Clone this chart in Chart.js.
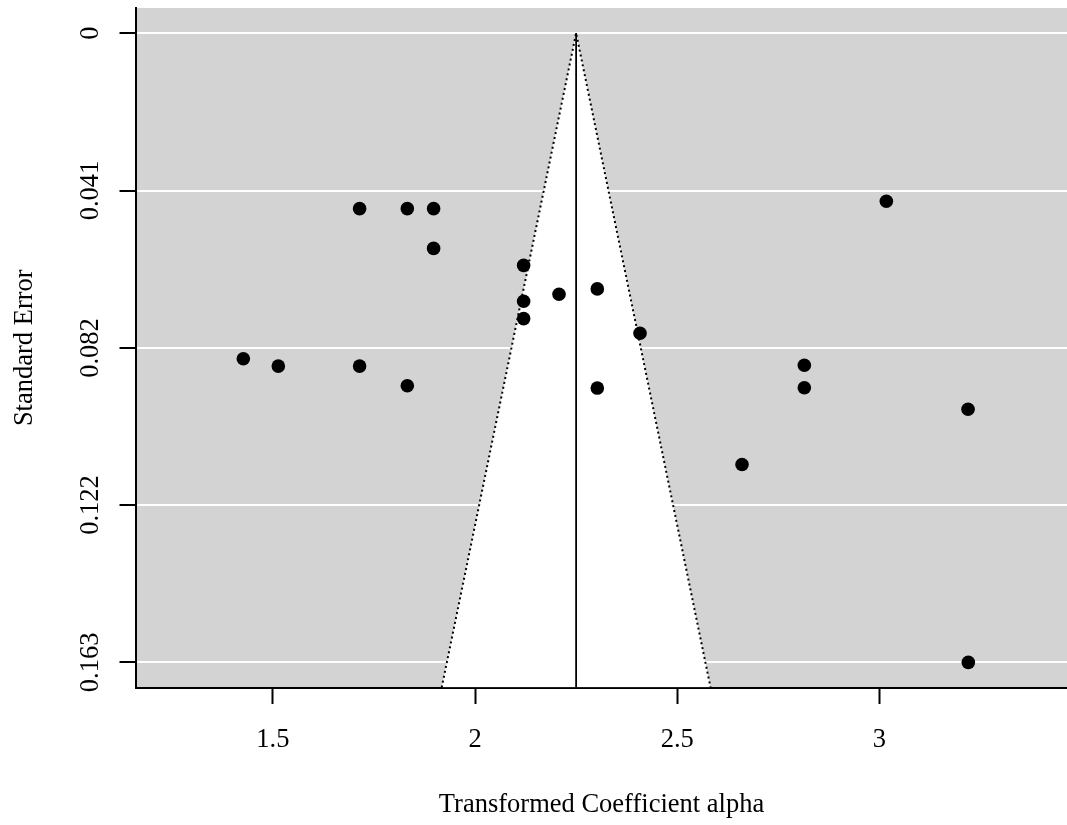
<!DOCTYPE html>
<html>
<head>
    <title>Funnel Plot</title>
    <script src="https://cdn.jsdelivr.net/npm/chart.js"></script>
    <style>
        body { margin: 0; background: #fff; }
    </style>
</head>
<body>
    <canvas id="funnelChart" width="1067" height="825"></canvas>
    <script>
    // transformed coefficient alpha and its standard error, one entry per study
    const alphaValues = [1.7146, 1.8326, 1.8976, 1.8976, 1.4271, 1.5136, 1.7146, 1.8326,
                         2.1202, 2.1202, 2.1202, 2.2077, 2.3024, 2.4080, 2.3024,
                         3.0171, 2.8143, 2.8143, 3.2191, 2.6602, 3.2198];
    const seValues = [0.0455, 0.0455, 0.0455, 0.0558, 0.0844, 0.0863, 0.0863, 0.0914,
                      0.0602, 0.0695, 0.0740, 0.0677, 0.0663, 0.0778, 0.0920,
                      0.0436, 0.0861, 0.0919, 0.0975, 0.1118, 0.1631];

    // pooled estimate and funnel (pseudo 95% limits)
    const pooledEstimate = 2.25;
    const zCrit = 1.96;

    const xTickValues = [1.5, 2, 2.5, 3];
    const yTickValues = [0, 0.0408, 0.0816, 0.1223, 0.1631];
    const yTickLabels = ['0', '0.041', '0.082', '0.122', '0.163'];

    const xMin = 1.1617, xMax = 3.4638;
    const yMin = -0.0065, yMax = 0.1696;

    const serif = 'Liberation Serif, "Times New Roman", serif';

    const points = alphaValues.map((a, i) => ({ x: a, y: seValues[i] }));
    const funnelEdge = [
        { x: pooledEstimate - zCrit * yMax, y: yMax },
        { x: pooledEstimate, y: 0 },
        { x: pooledEstimate + zCrit * yMax, y: yMax }
    ];
    const refLine = [{ x: pooledEstimate, y: 0 }, { x: pooledEstimate, y: yMax }];

    // grey panel behind everything, rotated y labels like base R
    const panelPlugin = {
        id: 'panel',
        beforeDraw(chart) {
            const { ctx, chartArea } = chart;
            ctx.save();
            ctx.fillStyle = '#d3d3d3';
            ctx.fillRect(chartArea.left, chartArea.top, chartArea.right - chartArea.left, chartArea.bottom - chartArea.top);
            ctx.restore();
        },
        afterDraw(chart) {
            const { ctx } = chart;
            const y = chart.scales.y;
            ctx.save();
            ctx.fillStyle = '#000';
            ctx.font = '26.5px ' + serif;
            ctx.textAlign = 'center';
            ctx.textBaseline = 'alphabetic';
            yTickValues.forEach((v, i) => {
                ctx.save();
                ctx.translate(98, y.getPixelForValue(v));
                ctx.rotate(-Math.PI / 2);
                ctx.fillText(yTickLabels[i], 0, 0);
                ctx.restore();
            });
            ctx.restore();
        }
    };

    const ctx = document.getElementById('funnelChart').getContext('2d');
    const chart = new Chart(ctx, {
        type: 'scatter',
        data: {
            datasets: [{
                label: 'Studies',
                data: points,
                backgroundColor: '#000',
                borderWidth: 0,
                pointRadius: 6.8,
                pointHoverRadius: 6.8
            }, {
                type: 'line',
                label: 'Estimate',
                data: refLine,
                borderColor: '#000',
                borderWidth: 1.8,
                pointRadius: 0,
                fill: false
            }, {
                type: 'line',
                label: 'Funnel',
                data: funnelEdge,
                borderColor: '#000',
                borderWidth: 2,
                borderDash: [2, 3],
                backgroundColor: '#fff',
                pointRadius: 0,
                tension: 0,
                fill: { value: yMax }
            }]
        },
        options: {
            responsive: false,
            animation: false,
            layout: { autoPadding: false, padding: { top: 8, left: 0, right: 0, bottom: 0 } },
            plugins: {
                legend: { display: false },
                tooltip: { enabled: false }
            },
            scales: {
                x: {
                    type: 'linear',
                    min: xMin,
                    max: xMax,
                    afterBuildTicks: (scale) => { scale.ticks = xTickValues.map(v => ({ value: v })); },
                    afterFit: (scale) => {
                        scale.height = 137.5;
                        scale.paddingLeft = 0;
                        scale.paddingRight = 0;
                    },
                    grid: {
                        drawOnChartArea: false,
                        drawTicks: true,
                        tickLength: 16.5,
                        tickColor: '#000',
                        tickWidth: 2
                    },
                    border: { display: true, color: '#000', width: 2 },
                    ticks: {
                        color: '#000',
                        padding: 20,
                        maxRotation: 0,
                        font: { family: serif, size: 26.5 },
                        callback: (v) => String(v)
                    },
                    title: {
                        display: true,
                        text: 'Transformed Coefficient alpha',
                        color: '#000',
                        font: { family: serif, size: 26.5 },
                        padding: { top: 0, bottom: 4 }
                    }
                },
                y: {
                    type: 'linear',
                    reverse: true,
                    min: yMin,
                    max: yMax,
                    afterBuildTicks: (scale) => { scale.ticks = yTickValues.map(v => ({ value: v })); },
                    afterFit: (scale) => {
                        scale.width = 136;
                        scale.paddingTop = 0;
                        scale.paddingBottom = 0;
                    },
                    grid: {
                        color: '#fff',
                        lineWidth: 2,
                        drawTicks: true,
                        tickLength: 16.5,
                        tickColor: '#000',
                        tickWidth: 2
                    },
                    border: { display: true, color: '#000', width: 2 },
                    ticks: { display: false },
                    title: {
                        display: true,
                        text: 'Standard Error',
                        color: '#000',
                        font: { family: serif, size: 26.5 },
                        padding: { top: 9.5, bottom: 0 }
                    }
                }
            }
        },
        plugins: [panelPlugin]
    });
    </script>
</body>
</html>
